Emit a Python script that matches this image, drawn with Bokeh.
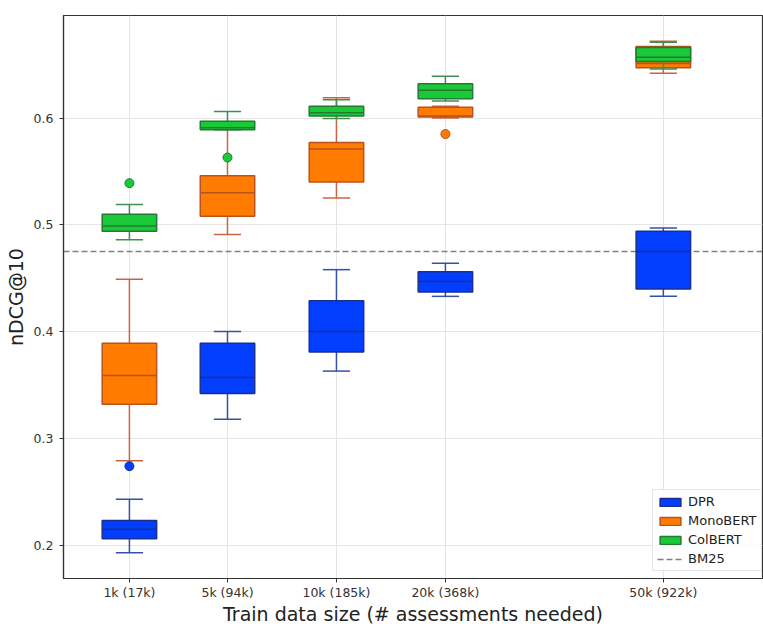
from bokeh.plotting import figure
from bokeh.models import ColumnDataSource, FixedTicker, Legend, LegendItem, Range1d
from bokeh.embed import file_html
from bokeh.resources import INLINE

# ---- data ----
sizes = ["1k (17k)", "5k (94k)", "10k (185k)", "20k (368k)", "50k (922k)"]

dpr_low = [0.193, 0.318, 0.363, 0.433, 0.433]
dpr_q1 = [0.206, 0.342, 0.381, 0.437, 0.440]
dpr_med = [0.215, 0.357, 0.400, 0.447, 0.475]
dpr_q3 = [0.223, 0.389, 0.429, 0.456, 0.494]
dpr_high = [0.243, 0.400, 0.458, 0.464, 0.497]
dpr_out_cat = ["1k (17k)"]
dpr_out_val = [0.274]

mono_low = [0.279, 0.491, 0.525, 0.600, 0.642]
mono_q1 = [0.332, 0.508, 0.540, 0.601, 0.647]
mono_med = [0.359, 0.530, 0.571, 0.602, 0.651]
mono_q3 = [0.389, 0.546, 0.577, 0.610, 0.667]
mono_high = [0.449, 0.592, 0.619, 0.611, 0.672]
mono_out_cat = ["20k (368k)"]
mono_out_val = [0.585]

col_low = [0.486, 0.589, 0.5995, 0.616, 0.646]
col_q1 = [0.494, 0.589, 0.602, 0.618, 0.653]
col_med = [0.499, 0.591, 0.605, 0.626, 0.657]
col_q3 = [0.510, 0.597, 0.611, 0.632, 0.666]
col_high = [0.519, 0.606, 0.617, 0.639, 0.671]
col_out_cat = ["1k (17k)", "5k (94k)"]
col_out_val = [0.539, 0.563]

bm25 = 0.475

# ---- layout / style ----
positions = [1.1, 2.0, 3.0, 4.0, 6.0]
pos_of = dict(zip(sizes, positions))
box_w = 0.5
cap_w = 0.25
x_lo, x_hi = 0.495, 6.91

p = figure(frame_width=699, frame_height=563, output_backend="svg", toolbar_location=None,
           x_range=Range1d(x_lo, x_hi), y_range=Range1d(0.1688, 0.696),
           min_border_left=63, min_border_right=1, min_border_top=15, min_border_bottom=40)
p.background_fill_color = "white"
p.border_fill_color = "white"
p.outline_line_color = "#333333"
p.outline_line_width = 1.2

FONT = "DejaVu Sans"
for ax in (p.xaxis[0], p.yaxis[0]):
    ax.axis_line_color = "#333333"
    ax.axis_line_width = 1.2
    ax.major_tick_line_color = "#333333"
    ax.major_tick_out = 4
    ax.major_tick_in = 0
    ax.minor_tick_line_color = None
    ax.major_label_text_font = FONT
    ax.major_label_text_font_size = "12.5px"
    ax.major_label_text_color = "#333333"
    ax.axis_label_text_font = FONT
    ax.axis_label_text_font_size = "19px"
    ax.axis_label_text_font_style = "normal"
    ax.axis_label_text_color = "#222222"

p.xaxis.ticker = FixedTicker(ticks=positions)
p.xaxis.major_label_overrides = {pp: s for pp, s in zip(positions, sizes)}
p.xaxis.axis_label = "Train data size (# assessments needed)"
p.xaxis.major_label_standoff = 2
p.xaxis.axis_label_standoff = 0
p.yaxis.ticker = FixedTicker(ticks=[0.2, 0.3, 0.4, 0.5, 0.6])
p.yaxis.axis_label = "nDCG@10"
p.yaxis.major_label_standoff = 6
p.yaxis.axis_label_standoff = 4

p.xgrid.grid_line_color = "#e5e5e5"
p.ygrid.grid_line_color = "#e5e5e5"
p.xgrid.ticker = FixedTicker(ticks=positions)
p.ygrid.ticker = FixedTicker(ticks=[0.2, 0.3, 0.4, 0.5, 0.6])

bm_r = p.line(x=[x_lo, x_hi], y=[bm25, bm25], line_color="#808080",
              line_dash="6 3", line_width=1.6)

models = [
    ("DPR", dpr_low, dpr_q1, dpr_med, dpr_q3, dpr_high, dpr_out_cat, dpr_out_val,
     "#023eff", "#1b2f8f", "#3550a8"),
    ("MonoBERT", mono_low, mono_q1, mono_med, mono_q3, mono_high, mono_out_cat, mono_out_val,
     "#ff7c00", "#b9521c", "#c8673f"),
    ("ColBERT", col_low, col_q1, col_med, col_q3, col_high, col_out_cat, col_out_val,
     "#1ac938", "#237a33", "#3f8f50"),
]

legend_items = []
outlier_specs = []
for name, lo, q1, med, q3, hi, oc, ov, face, edge, wcol in models:
    xs = [pos_of[s] for s in sizes]
    src = ColumnDataSource(dict(
        x=xs, lo=lo, q1=q1, med=med, q3=q3, hi=hi,
        cl=[x - cap_w / 2 for x in xs], cr=[x + cap_w / 2 for x in xs],
        bl=[x - box_w / 2 for x in xs], br=[x + box_w / 2 for x in xs],
    ))
    p.segment(x0="x", y0="q3", x1="x", y1="hi", source=src, line_color=wcol, line_width=1.5)
    p.segment(x0="x", y0="q1", x1="x", y1="lo", source=src, line_color=wcol, line_width=1.5)
    p.segment(x0="cl", y0="hi", x1="cr", y1="hi", source=src, line_color=wcol, line_width=1.5)
    p.segment(x0="cl", y0="lo", x1="cr", y1="lo", source=src, line_color=wcol, line_width=1.5)
    r = p.vbar(x="x", width=box_w, top="q3", bottom="q1", source=src,
               fill_color=face, line_color=edge, line_width=1.5)
    p.segment(x0="bl", y0="med", x1="br", y1="med", source=src, line_color=edge, line_width=1.5)
    legend_items.append(LegendItem(label=name, renderers=[r]))
    outlier_specs.append((oc, ov, face, edge))

for oc, ov, face, edge in outlier_specs:
    osrc = ColumnDataSource(dict(x=[pos_of[c] for c in oc], y=ov))
    p.scatter(x="x", y="y", source=osrc, size=9, marker="circle",
              fill_color=face, line_color=edge, line_width=1)

legend_items.append(LegendItem(label="BM25", renderers=[bm_r]))

legend = Legend(items=legend_items, location=(589, 7))
legend.label_text_font = FONT
legend.label_text_font_size = "13px"
legend.label_text_color = "#222222"
legend.glyph_width = 26
legend.glyph_height = 10
legend.label_height = 15
legend.spacing = 4
legend.padding = 4
legend.margin = 0
legend.border_line_color = "#cccccc"
legend.background_fill_alpha = 0.85
p.add_layout(legend)

open("out.html", "w").write(file_html(p, INLINE))
